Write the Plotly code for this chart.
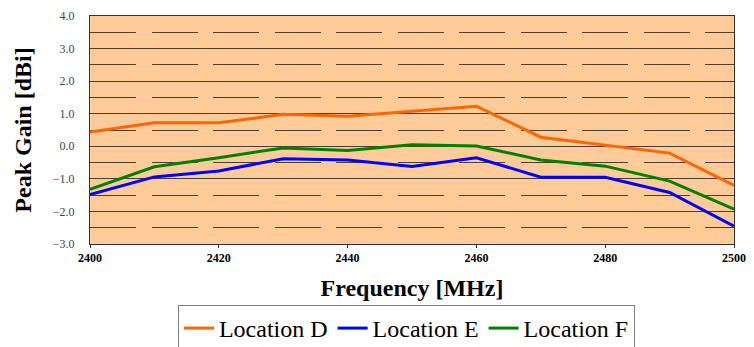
import plotly.graph_objects as go

# Frequency sweep (MHz) and measured peak gain (dBi) per location
freq_mhz = [2400, 2410, 2420, 2430, 2440, 2450, 2460, 2470, 2480, 2490, 2500]
gain_loc_d = [0.44, 0.72, 0.72, 0.98, 0.92, 1.07, 1.23, 0.28, 0.03, -0.21, -1.20]
gain_loc_e = [-1.48, -0.94, -0.76, -0.38, -0.42, -0.62, -0.35, -0.95, -0.95, -1.42, -2.45]
gain_loc_f = [-1.32, -0.63, -0.35, -0.05, -0.13, 0.05, 0.01, -0.42, -0.61, -1.07, -1.93]

series_names = ["Location D", "Location E", "Location F"]
series_colors = ["#FF6600", "#0000FF", "#008000"]
x_tick_vals = [2400, 2420, 2440, 2460, 2480, 2500]
y_tick_vals = [-3, -2, -1, 0, 1, 2, 3, 4]

SERIF = "Times New Roman"

fig = go.Figure()
for name, vals, color in zip(series_names, [gain_loc_d, gain_loc_e, gain_loc_f], series_colors):
    fig.add_trace(go.Scatter(
        x=freq_mhz, y=vals, name=name, mode="lines",
        line=dict(color=color, width=3),
    ))

fig.update_layout(
    width=754, height=347,
    margin=dict(l=90, r=20, t=16, b=103, autoexpand=False),
    paper_bgcolor="white",
    plot_bgcolor="#FFCC99",
    font=dict(family=SERIF),
    showlegend=True,
    legend=dict(
        orientation="h",
        x=0.4914, xanchor="center",
        y=-0.2675, yanchor="top",
        bgcolor="white",
        bordercolor="#808080", borderwidth=1,
        font=dict(family=SERIF, size=24, color="black"),
        itemwidth=30,
        tracegroupgap=0,
    ),
)

fig.update_xaxes(
    range=[2400, 2500],
    tickvals=x_tick_vals,
    ticks="outside", ticklen=3, tickcolor="#333333",
    tickfont=dict(family=SERIF, size=12, color="black", weight="bold"),
    showgrid=False, zeroline=False,
    showline=True, linecolor="#333333", linewidth=1, mirror=True,
    title=dict(text="Frequency [MHz]", standoff=14,
               font=dict(family=SERIF, size=24, color="black", weight="bold")),
)

fig.update_yaxes(
    range=[-3, 4],
    tickvals=y_tick_vals,
    tickformat=".1f",
    ticks="",
    ticklabelstandoff=12,
    tickfont=dict(family=SERIF, size=12, color="#444444"),
    showgrid=True, gridcolor="#4d4033", gridwidth=1,
    zeroline=False,
    minor=dict(dtick=0.5, tick0=0, showgrid=True, gridcolor="#4d4033",
               gridwidth=1, griddash="46px,15.5px"),
    showline=True, linecolor="#333333", linewidth=1, mirror=True,
    title=dict(text="Peak Gain [dBi]", standoff=14,
               font=dict(family=SERIF, size=24, color="black", weight="bold")),
)

fig.write_html("out.html")
